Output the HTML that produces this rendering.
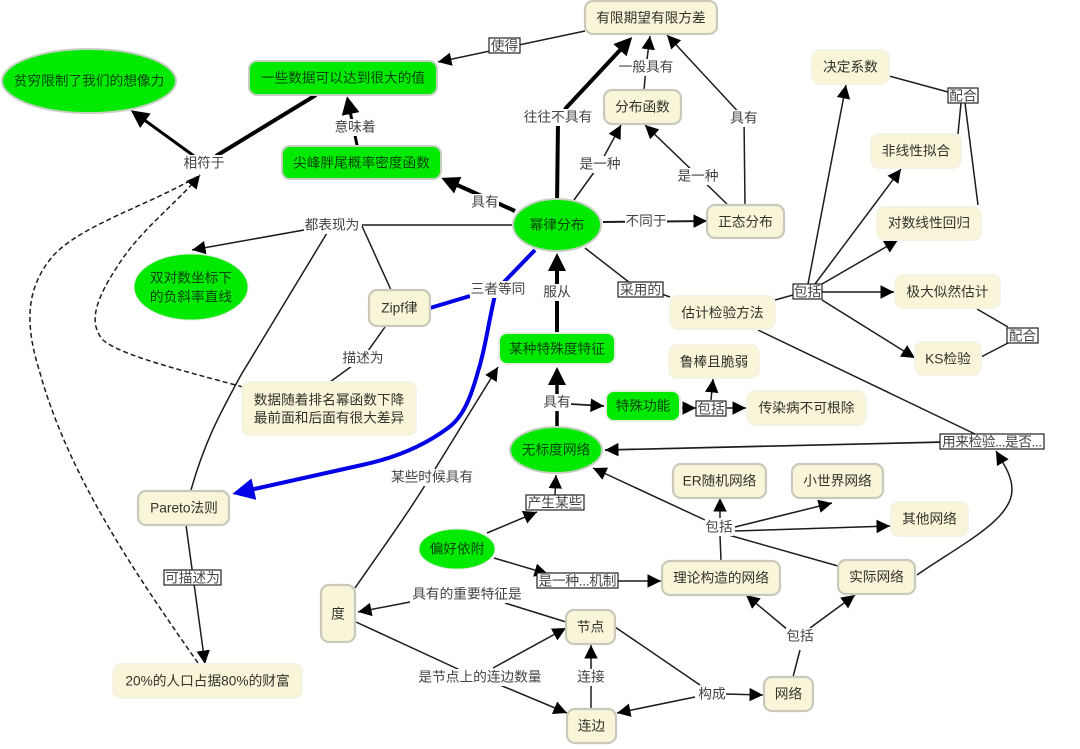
<!DOCTYPE html>
<html><head><meta charset="utf-8"><style>
html,body{margin:0;padding:0;background:#fff;width:1080px;height:749px;overflow:hidden}
svg{display:block}
text{font-family:"Liberation Sans","Noto Sans CJK SC",sans-serif;font-size:13.7px;text-anchor:middle;dominant-baseline:central;fill:#33332a}
.g text,text.g{fill:#0a450a}
.lb rect{fill:#fff}
.lb text{fill:#444}
.e path{fill:none;stroke:#1c1c1c;stroke-width:1.5}
.e .k{marker-end:url(#a)}
.n rect{fill:#f8f5d9;stroke:#c9c9bb;stroke-width:2.2}
.m rect{fill:#f8f5d9;stroke:#f5f3e4;stroke-width:2}
.gr rect,.gr ellipse{fill:#00ea00;stroke:#c4d0c0;stroke-width:2}
.b rect{fill:#fff;stroke:#222;stroke-width:1.2}
.b text{fill:#444}
</style></head><body>
<svg width="1080" height="749" viewBox="0 0 1080 749" xmlns="http://www.w3.org/2000/svg">
<defs>
<marker id="a" markerUnits="userSpaceOnUse" viewBox="0 0 10 10" refX="10" refY="5" markerWidth="13.500" markerHeight="13.500" orient="auto"><path d="M0 0L10 5L0 10z" fill="#000"/></marker>
<marker id="b" markerUnits="userSpaceOnUse" viewBox="0 0 10 10" refX="1.670" refY="5" markerWidth="18" markerHeight="18" orient="auto"><path d="M0 0L10 5L0 10z" fill="#000"/></marker>
<marker id="c" markerUnits="userSpaceOnUse" viewBox="0 0 10 10" refX="1.820" refY="5" markerWidth="22" markerHeight="22" orient="auto"><path d="M0 0L10 5L0 10z" fill="#0000e6"/></marker>
</defs>

<g class="e">
<path class="k" d="M585 31L438 62"/>
<path class="k" d="M644 90L646 67L650 36"/>
<path class="k" d="M745 205L744 118L667 35"/>
<path class="k" d="M574 200L600 164L621 125"/>
<path class="k" d="M727 204L698 176L645 125"/>
<path class="k" style="stroke-width:2" d="M603 222L707 221"/>
<path d="M585 248L630 283L670 297"/>
<path d="M775 300L793 295"/>
<path class="k" d="M808 284L846 85"/>
<path class="k" d="M815 284L901 169"/>
<path class="k" d="M822 284L898 240"/>
<path class="k" d="M822 292L894 292"/>
<path class="k" d="M822 300L915 358"/>
<path d="M889 76L948 92M961 103L958 134M965 103L978 205"/>
<path d="M977 309L1008 327M1008 343L981 357"/>
<path d="M758 330L975 434"/>
<path class="k" style="stroke-width:1.7" d="M945 442L605 450"/>
<path class="k" d="M917 575C960 545 1012 520 1012 490C1012 475 1003 463 996 451"/>
<path d="M512 225L362 225"/>
<path class="k" d="M332 225L192 250"/>
<path d="M391 290L362 226"/>
<path d="M191 490C205 440 222 410 241 375L327 233"/>
<path d="M385 327L363 358L330 382"/>
<path class="k" d="M186 525L205 664"/>
<path class="k" stroke-dasharray="5 3" d="M243 387C180 370 120 355 103 340C90 325 92 305 117 267C140 230 175 205 200 175"/>
<path stroke-dasharray="5 3" d="M198 663C140 580 70 480 40 373C25 325 25 290 52 257C80 225 150 205 200 175"/>
<path class="k" style="stroke-width:1.7" d="M570 404L604 406"/>
<path class="k" d="M682 408L696 408"/>
<path class="k" d="M727 408L746 408"/>
<path class="k" d="M711 400L713 379"/>
<path class="k" d="M487 533L537 512"/>
<path class="k" d="M555 495L556 475"/>
<path class="k" d="M494 558L548 574"/>
<path class="k" d="M618 581L661 581"/>
<path d="M721 561L720 535"/>
<path class="k" d="M720 518L720 498"/>
<path class="k" d="M735 527L832 503"/>
<path class="k" d="M735 531L890 526"/>
<path class="k" d="M705 520L593 468"/>
<path d="M838 566L725 534"/>
<path d="M793 677L800 650"/>
<path class="k" d="M788 630L746 595"/>
<path class="k" d="M810 628L855 595"/>
<path d="M566 622L505 603"/>
<path class="k" d="M410 602L358 612"/>
<path d="M356 622L460 670"/>
<path class="k" d="M500 685L567 713"/>
<path class="k" d="M493 668L566 628"/>
<path class="k" d="M591 709L591 645"/>
<path d="M615 627L700 685"/>
<path class="k" d="M695 697L617 713"/>
<path class="k" d="M725 694L763 695"/>
<path class="k" d="M355 588C385 545 410 510 427 482L498 367"/>
<!-- thick -->
<path style="stroke:#000;stroke-width:4;marker-end:url(#b)" d="M557 205L558 122L566 108L622 48"/>
<path style="stroke:#000;stroke-width:4" d="M316 95L216 156"/>
<path style="stroke:#000;stroke-width:3;marker-end:url(#b)" d="M194 156L143 119"/>
<path style="stroke:#000;stroke-width:3;marker-end:url(#b)" d="M358 150L350 111"/>
<path style="stroke:#000;stroke-width:4;marker-end:url(#b)" d="M515 211L455 184"/>
<path style="stroke:#000;stroke-width:4;marker-end:url(#b)" d="M557 332L557 268"/>
<path style="stroke:#000;stroke-width:3.5;marker-end:url(#b)" d="M557 427L557 382"/>
<!-- blue -->
<path style="stroke:#0000e6;stroke-width:4" d="M430 308L470 296M535 250L503 283"/>
<path style="stroke:#0000e6;stroke-width:4;marker-end:url(#c)" d="M495 295C487 330 485 350 477 375C470 400 462 418 448 428C425 445 395 458 362 465L250 490"/>
</g>

<!-- connector labels -->
<g class="lb">
<rect x="524" y="109" width="68" height="17"/><text x="558" y="117">往往不具有</text>
<rect x="618" y="59" width="56" height="17"/><text x="646" y="67">一般具有</text>
<rect x="730" y="110" width="28" height="17"/><text x="744" y="118">具有</text>
<rect x="579" y="156" width="42" height="17"/><text x="600" y="164">是一种</text>
<rect x="677" y="168" width="42" height="17"/><text x="698" y="176">是一种</text>
<rect x="625" y="213" width="42" height="17"/><text x="646" y="221">不同于</text>
<rect x="334" y="119" width="42" height="17"/><text x="355" y="127">意味着</text>
<rect x="183" y="155" width="42" height="17"/><text x="204" y="163">相符于</text>
<rect x="471" y="194" width="28" height="17"/><text x="485" y="202">具有</text>
<rect x="304" y="217" width="56" height="17"/><text x="332" y="225">都表现为</text>
<rect x="470" y="281" width="56" height="17"/><text x="498" y="289">三者等同</text>
<rect x="543" y="284" width="28" height="17"/><text x="557" y="292">服从</text>
<rect x="342" y="350" width="42" height="17"/><text x="363" y="358">描述为</text>
<rect x="543" y="394" width="28" height="17"/><text x="557" y="402">具有</text>
<rect x="705" y="519" width="28" height="17"/><text x="719" y="527">包括</text>
<rect x="786" y="628" width="28" height="17"/><text x="800" y="636">包括</text>
<rect x="390" y="469" width="84" height="17"/><text x="432" y="477">某些时候具有</text>
<rect x="412" y="586" width="110" height="17"/><text x="467" y="594">具有的重要特征是</text>
<rect x="418" y="669" width="124" height="17"/><text x="480" y="677">是节点上的连边数量</text>
<rect x="577" y="669" width="28" height="17"/><text x="591" y="677">连接</text>
<rect x="698" y="686" width="28" height="17"/><text x="712" y="694">构成</text>
</g>

<!-- boxed labels -->
<g class="b">
<rect x="489" y="38" width="31" height="15"/><text x="504.500" y="46">使得</text>
<rect x="618" y="282" width="45" height="15"/><text x="640.500" y="290">采用的</text>
<rect x="793" y="284" width="29" height="15"/><text x="807.500" y="292">包括</text>
<rect x="948" y="88" width="30" height="15"/><text x="963" y="96">配合</text>
<rect x="1007" y="328" width="31" height="15"/><text x="1022.500" y="336">配合</text>
<rect x="696" y="401" width="30" height="15"/><text x="711" y="409">包括</text>
<rect x="940" y="434" width="104" height="15"/><text x="992" y="442" textLength="100">用来检验...是否...</text>
<rect x="526" y="495" width="58" height="15"/><text x="555" y="503">产生某些</text>
<rect x="537" y="573" width="81" height="15"/><text x="577.500" y="581" textLength="78">是一种...机制</text>
<rect x="164" y="570" width="57" height="15"/><text x="192.500" y="578">可描述为</text>
</g>

<!-- bordered beige nodes -->
<g class="n">
<rect x="585" y="1" width="132" height="33" rx="8"/><text x="651" y="18">有限期望有限方差</text>
<rect x="604" y="90" width="77" height="34" rx="8"/><text x="642.500" y="107">分布函数</text>
<rect x="707" y="205" width="77" height="33" rx="8"/><text x="745.500" y="222">正态分布</text>
<rect x="369" y="290" width="61" height="36" rx="8"/><text x="399.500" y="308">Zipf律</text>
<rect x="138" y="491" width="91" height="34" rx="8"/><text x="184" y="508">Pareto法则</text>
<rect x="321" y="585" width="34" height="57" rx="8"/><text x="338" y="614">度</text>
<rect x="673" y="464" width="93" height="34" rx="8"/><text x="719.500" y="481">ER随机网络</text>
<rect x="792" y="464" width="91" height="34" rx="8"/><text x="837.500" y="481">小世界网络</text>
<rect x="662" y="561" width="118" height="34" rx="8"/><text x="721" y="578">理论构造的网络</text>
<rect x="838" y="560" width="77" height="34" rx="8"/><text x="876.500" y="577">实际网络</text>
<rect x="566" y="610" width="49" height="34" rx="8"/><text x="590.500" y="627">节点</text>
<rect x="567" y="709" width="49" height="34" rx="8"/><text x="591.500" y="726">连边</text>
<rect x="764" y="677" width="49" height="34" rx="8"/><text x="788.500" y="694">网络</text>
</g>

<!-- borderless beige nodes -->
<g class="m">
<rect x="812" y="50" width="77" height="34" rx="8"/><text x="850.500" y="67">决定系数</text>
<rect x="871" y="134" width="90" height="34" rx="8"/><text x="916" y="151">非线性拟合</text>
<rect x="877" y="207" width="104" height="33" rx="8"/><text x="929" y="223">对数线性回归</text>
<rect x="895" y="275" width="105" height="33" rx="8"/><text x="947.500" y="292">极大似然估计</text>
<rect x="670" y="296" width="105" height="33" rx="8"/><text x="722.500" y="313">估计检验方法</text>
<rect x="915" y="342" width="66" height="33" rx="8"/><text x="948" y="359">KS检验</text>
<rect x="669" y="345" width="90" height="33" rx="8"/><text x="714" y="362">鲁棒且脆弱</text>
<rect x="747" y="391" width="119" height="34" rx="8"/><text x="806.500" y="408">传染病不可根除</text>
<rect x="891" y="502" width="77" height="34" rx="8"/><text x="929.500" y="519">其他网络</text>
<rect x="113" y="664" width="189" height="34" rx="8"/><text x="207.500" y="681">20%的人口占据80%的财富</text>
<rect x="242" y="382" width="174" height="53" rx="8"/><text x="329" y="400">数据随着排名幂函数下降</text><text x="329" y="418">最前面和后面有很大差异</text>
</g>

<!-- green nodes -->
<g class="gr g">
<ellipse cx="89" cy="81" rx="87" ry="32"/><text x="89" y="81">贫穷限制了我们的想像力</text>
<rect x="249" y="61" width="188" height="34" rx="8"/><text x="343" y="78">一些数据可以达到很大的值</text>
<rect x="282" y="146" width="159" height="33" rx="8"/><text x="361.500" y="163">尖峰胖尾概率密度函数</text>
<ellipse cx="557" cy="225" rx="44" ry="26"/><text x="557" y="225">幂律分布</text>
<ellipse cx="191" cy="287" rx="57" ry="33" style="stroke:#dfe8d8;stroke-width:1"/><text x="191" y="278">双对数坐标下</text><text x="191" y="297">的负斜率直线</text>
<rect x="499" y="333" width="116" height="31" rx="8" style="stroke:#e4efe0"/><text x="557" y="349">某种特殊度特征</text>
<rect x="606" y="391" width="74" height="30" rx="8" style="stroke:#e4efe0"/><text x="643" y="406">特殊功能</text>
<ellipse cx="556" cy="450" rx="46" ry="23"/><text x="556" y="450">无标度网络</text>
<ellipse cx="457" cy="549" rx="38" ry="20" style="stroke:#dfe8d8;stroke-width:1"/><text x="457" y="549">偏好依附</text>
</g>
</svg>
</body></html>
